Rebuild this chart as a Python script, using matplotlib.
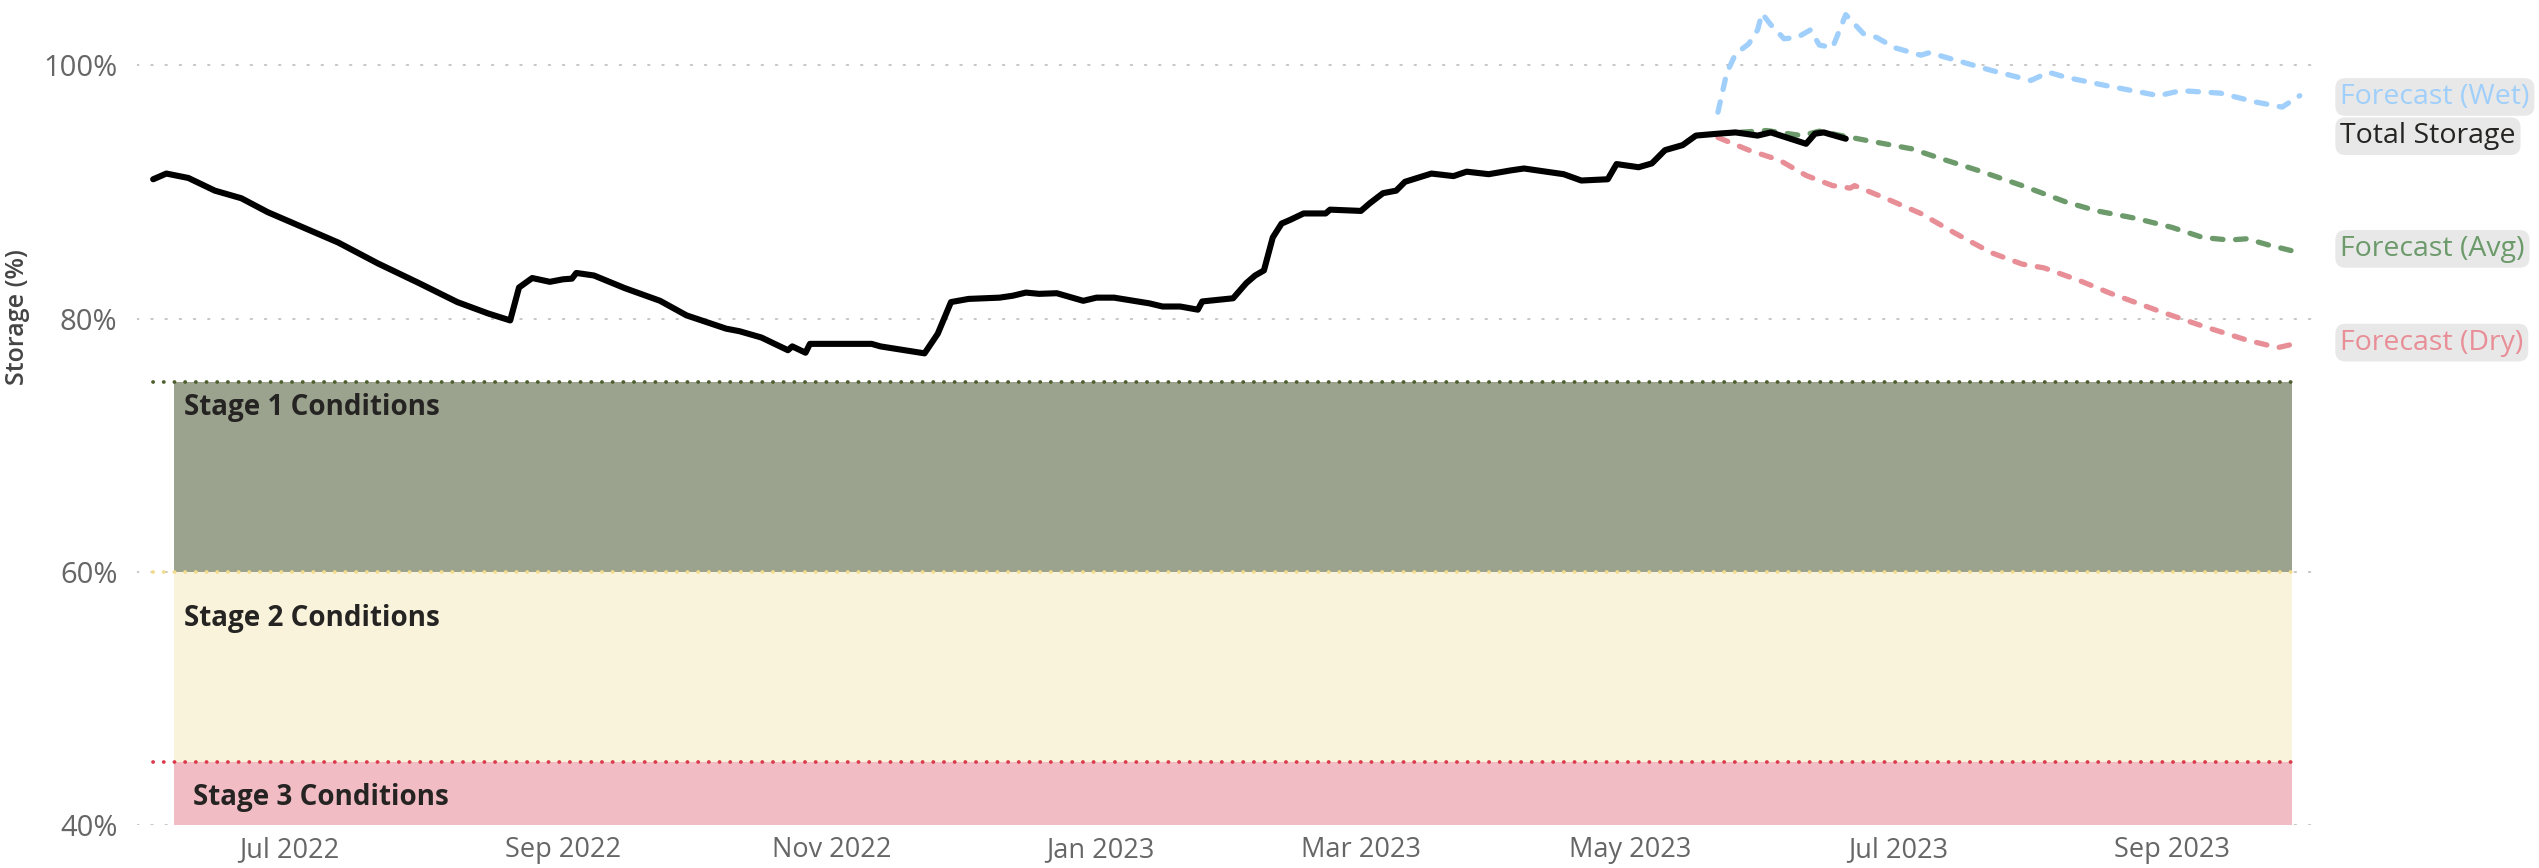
import matplotlib
matplotlib.use("Agg")
import matplotlib.pyplot as plt
import matplotlib.dates as mdates
import matplotlib.transforms as mtransforms
import pandas as pd

plt.rcParams['font.family'] = ['Open Sans', 'DejaVu Sans']

# ---------------- data ----------------
total_dates = ["2022-05-31", "2022-06-03", "2022-06-08", "2022-06-14", "2022-06-20", "2022-06-26",
               "2022-07-03", "2022-07-12", "2022-07-21", "2022-07-30", "2022-08-08", "2022-08-15",
               "2022-08-20", "2022-08-22", "2022-08-25", "2022-08-29", "2022-09-01", "2022-09-03",
               "2022-09-04", "2022-09-08", "2022-09-15", "2022-09-23", "2022-09-29", "2022-10-08",
               "2022-10-11", "2022-10-16", "2022-10-22", "2022-10-23", "2022-10-26", "2022-10-27",
               "2022-11-03", "2022-11-10", "2022-11-12", "2022-11-22", "2022-11-25", "2022-11-28",
               "2022-12-02", "2022-12-09", "2022-12-12", "2022-12-15", "2022-12-18", "2022-12-22",
               "2022-12-28", "2022-12-31", "2023-01-04", "2023-01-12", "2023-01-15", "2023-01-19",
               "2023-01-23", "2023-01-24", "2023-01-31", "2023-02-03", "2023-02-05", "2023-02-07",
               "2023-02-09", "2023-02-11", "2023-02-13", "2023-02-16", "2023-02-21", "2023-02-22",
               "2023-03-01", "2023-03-03", "2023-03-06", "2023-03-09", "2023-03-11", "2023-03-17",
               "2023-03-22", "2023-03-25", "2023-03-30", "2023-04-04", "2023-04-07", "2023-04-16",
               "2023-04-20", "2023-04-26", "2023-04-28", "2023-05-03", "2023-05-06", "2023-05-09",
               "2023-05-13", "2023-05-16", "2023-05-21", "2023-05-25", "2023-05-30", "2023-06-02",
               "2023-06-10", "2023-06-12", "2023-06-14", "2023-06-19"]
total_vals = [91.0, 91.45, 91.1, 90.1, 89.5, 88.4,
              87.35, 86.0, 84.35, 82.85, 81.3, 80.4,
              79.85, 82.45, 83.2, 82.9, 83.1, 83.15,
              83.6, 83.4, 82.4, 81.4, 80.25, 79.2,
              79.0, 78.5, 77.5, 77.8, 77.3, 78.0,
              78.0, 78.0, 77.8, 77.25, 78.8, 81.3,
              81.55, 81.65, 81.8, 82.05, 81.95, 82.0,
              81.4, 81.65, 81.65, 81.2, 80.95, 80.95,
              80.7, 81.35, 81.6, 82.8, 83.4, 83.8,
              86.4, 87.5, 87.8, 88.3, 88.3, 88.6,
              88.5, 89.1, 89.9, 90.1, 90.8, 91.45,
              91.25, 91.6, 91.4, 91.7, 91.85, 91.4,
              90.9, 91.0, 92.2, 91.95, 92.25, 93.3,
              93.7, 94.45, 94.6, 94.7, 94.45, 94.7,
              93.8, 94.6, 94.7, 94.2]

wet_dates = ["2023-05-21", "2023-05-23", "2023-05-25", "2023-05-28", "2023-05-30", "2023-05-31",
             "2023-06-02", "2023-06-05", "2023-06-08", "2023-06-11", "2023-06-13", "2023-06-16",
             "2023-06-19", "2023-06-23", "2023-06-26", "2023-06-30", "2023-07-06", "2023-07-08",
             "2023-07-14", "2023-07-22", "2023-07-31", "2023-08-04", "2023-08-08", "2023-08-17",
             "2023-08-29", "2023-09-03", "2023-09-12", "2023-09-20", "2023-09-26", "2023-09-30"]
wet_vals = [96.3, 99.4, 100.9, 101.7, 102.8, 104.1,
            103.2, 102.1, 102.2, 102.8, 101.6, 101.4,
            104.0, 102.5, 102.2, 101.4, 100.8, 101.0,
            100.4, 99.6, 98.8, 99.45, 99.05, 98.4,
            97.6, 98.0, 97.8, 97.1, 96.7, 97.6]

avg_dates = ["2023-05-21", "2023-06-01", "2023-06-09", "2023-06-13", "2023-06-18", "2023-06-24",
             "2023-07-04", "2023-07-10", "2023-07-19", "2023-07-29", "2023-08-08", "2023-08-15",
             "2023-08-24", "2023-09-01", "2023-09-08", "2023-09-14", "2023-09-18", "2023-09-23",
             "2023-09-30"]
avg_vals = [94.6, 94.85, 94.45, 94.8, 94.45, 94.05,
            93.4, 92.7, 91.7, 90.5, 89.2, 88.5,
            87.9, 87.2, 86.4, 86.2, 86.3, 85.8,
            85.2]

dry_dates = ["2023-05-21", "2023-05-28", "2023-06-04", "2023-06-10", "2023-06-16", "2023-06-20",
             "2023-06-21", "2023-06-28", "2023-07-06", "2023-07-14", "2023-07-22", "2023-07-29",
             "2023-08-03", "2023-08-11", "2023-08-18", "2023-08-29", "2023-09-08", "2023-09-18",
             "2023-09-25", "2023-09-30"]
dry_vals = [94.3, 93.3, 92.5, 91.3, 90.5, 90.3,
            90.5, 89.5, 88.3, 86.7, 85.2, 84.3,
            84.0, 83.0, 82.0, 80.6, 79.4, 78.3,
            77.7, 78.1]

stage_names = ["Stage 1 Conditions", "Stage 2 Conditions", "Stage 3 Conditions"]
stage_upper = [75, 60, 45]
stage_lower = [60, 45, 40]
band_start, band_end = "2022-06-04 16:00", "2023-09-28 08:00"
line_start, line_end = "2022-05-31", "2023-09-30"

y_ticks = [40, 60, 80, 100]
x_tick_months = [1, 3, 5, 7, 9, 11]

# ---------------- styles ----------------
band_colors = ["#9BA38E", "#FAF3DC", "#F1BCC3"]
threshold_colors = ["#4E5E2E", "#F2DC8C", "#DA3A4C"]
wet_c, avg_c, dry_c = "#9FCFFA", "#6C9A6B", "#E88E97"
grid_c = "#C8C6C4"
tick_c = "#666666"

W, H = 2539, 868
fig = plt.figure(figsize=(W / 100, H / 100), dpi=100)
ax = fig.add_axes([137 / W, 1 - 825 / H, 2176 / W, 823 / H])

D = lambda s: pd.to_datetime(s)
ax.set_xlim(D("2022-05-27 08:00"), D("2023-10-03 00:00"))
ax.set_ylim(40, 105)

# grid
for yv in y_ticks:
    ax.axhline(yv, color=grid_c, lw=1.4, linestyle=(0, (0.8, 6.5)), zorder=1,
               dash_capstyle='round')

# bands
for up, lo, col in zip(stage_upper, stage_lower, band_colors):
    ax.fill_between([D(band_start), D(band_end)], lo, up, color=col, lw=0, zorder=2)

# threshold dotted lines
for up, col in zip(stage_upper, threshold_colors):
    ax.plot([D(line_start), D(line_end)], [up, up], color=col, lw=2.7,
            linestyle=(0, (0.05, 2.8)), dash_capstyle='round', zorder=3)

# stage labels
stage_text_x = [D("2022-06-07"), D("2022-06-07"), D("2022-06-09")]
stage_text_y = [73.0, 56.3, 42.2]
for name, tx, ty in zip(stage_names, stage_text_x, stage_text_y):
    ax.text(tx, ty, name, fontsize=20, fontweight='bold', color="#252423",
            va='center', ha='left', zorder=4)

# forecast lines
dash = (0, (2.0, 2.4))
for dts, vals, col in [(wet_dates, wet_vals, wet_c), (avg_dates, avg_vals, avg_c),
                       (dry_dates, dry_vals, dry_c)]:
    ax.plot(D(dts), vals, color=col, lw=3.8, linestyle=dash,
            dash_capstyle='round', zorder=5, clip_on=False)
ax.plot(D(total_dates), total_vals, color="black", lw=4.4, zorder=6,
        solid_joinstyle='round', solid_capstyle='round')

# end labels
trans = mtransforms.blended_transform_factory(ax.transAxes, ax.transData)
end_labels = [("Forecast (Wet)", wet_vals[-1] - 0.1, wet_c),
              ("Total Storage", total_vals[-1] + 0.2, "#252423"),
              ("Forecast (Avg)", avg_vals[-1] + 0.3, avg_c),
              ("Forecast (Dry)", dry_vals[-1], dry_c)]
for txt, yv, col in end_labels:
    ax.text(1.0125, yv, txt, transform=trans, fontsize=20.5, color=col,
            va='center', ha='left', clip_on=False, zorder=7,
            bbox=dict(boxstyle='round,pad=0.17,rounding_size=0.35',
                      fc='#E8E8E8', ec='none'))

# axes formatting
for s in ax.spines.values():
    s.set_visible(False)
ax.set_yticks(y_ticks)
ax.set_yticklabels([f"{v}%" for v in y_ticks])
ax.xaxis.set_major_locator(mdates.MonthLocator(bymonth=x_tick_months))
ax.xaxis.set_major_formatter(mdates.DateFormatter('%b %Y'))
ax.tick_params(axis='both', length=0, colors=tick_c)
ax.tick_params(axis='y', pad=14, labelsize=21)
ax.tick_params(axis='x', pad=8, labelsize=19.5)
fig.text(18 / W, 1 - 317 / H, "Storage (%)", rotation=90, fontsize=18,
         fontweight='semibold', color="#444444", ha='center', va='center')

fig.savefig("out.png", dpi=100)
